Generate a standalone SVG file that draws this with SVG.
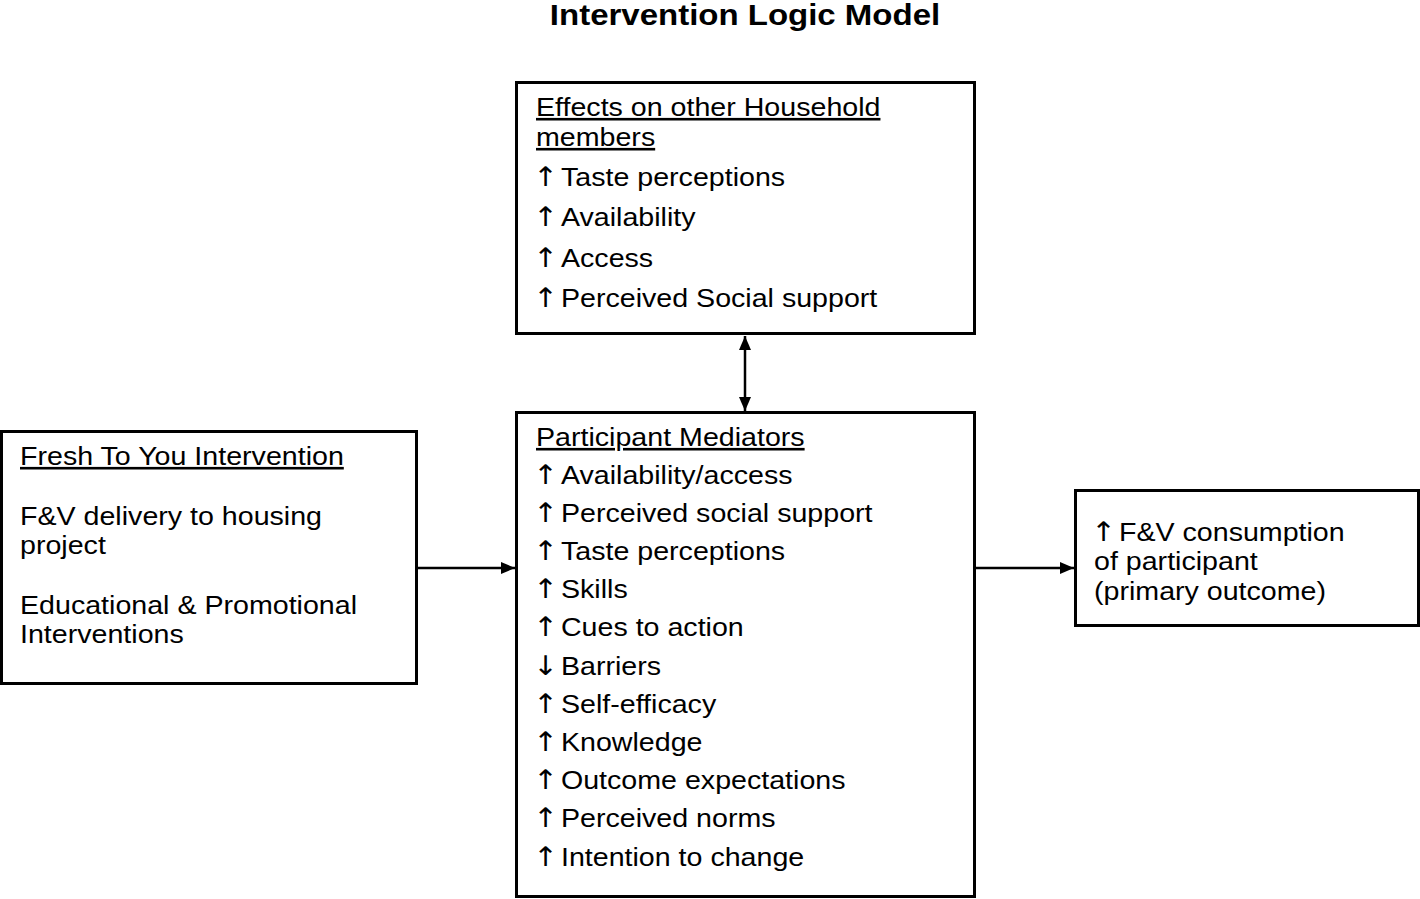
<svg xmlns="http://www.w3.org/2000/svg" width="1420" height="899" viewBox="0 0 1420 899">
<defs>
<style>
.box{fill:#fff;stroke:#000;stroke-width:3}
.t{font-family:"Liberation Sans",Arial,sans-serif;font-size:26px;fill:#000}
.u{text-decoration:underline}
.ar{font-family:"DejaVu Sans",sans-serif;font-size:27px}
.title{font-family:"Liberation Sans",Arial,sans-serif;font-size:30px;font-weight:bold;fill:#000}
.c{stroke:#000;stroke-width:2.5;fill:none}
</style>
<marker id="ah" viewBox="0 0 10 10" refX="10" refY="5" markerWidth="14" markerHeight="12" markerUnits="userSpaceOnUse" orient="auto-start-reverse" preserveAspectRatio="none">
<path d="M0,0 L10,5 L0,10 z" fill="#000"/>
</marker>
</defs>
<rect width="1420" height="899" fill="#fff"/>
<g transform="translate(745 0) scale(1.1 1)">
<text class="title" x="0" y="25" text-anchor="middle">Intervention Logic Model</text>
</g>
<g id="connectors">
<line class="c" x1="417" y1="568" x2="515" y2="568" marker-end="url(#ah)"/>
<line class="c" x1="975" y1="568" x2="1074" y2="568" marker-end="url(#ah)"/>
<line class="c" x1="745" y1="336" x2="745" y2="411" marker-start="url(#ah)" marker-end="url(#ah)"/>
</g>
<g id="household">
<rect class="box" x="516.5" y="82.5" width="458" height="251"/>
<g transform="translate(536 0) scale(1.1 1)">
<text class="t u" x="0" y="116">Effects on other Household</text>
<text class="t u" x="0" y="146">members</text>
<text class="t" y="186"><tspan class="ar" x="-2.5">↑</tspan><tspan x="22.7">Taste perceptions</tspan></text>
<text class="t" y="226"><tspan class="ar" x="-2.5">↑</tspan><tspan x="22.7">Availability</tspan></text>
<text class="t" y="267"><tspan class="ar" x="-2.5">↑</tspan><tspan x="22.7">Access</tspan></text>
<text class="t" y="307"><tspan class="ar" x="-2.5">↑</tspan><tspan x="22.7">Perceived Social support</tspan></text>
</g>
</g>
<g id="intervention">
<rect class="box" x="1.5" y="431.5" width="415" height="252"/>
<g transform="translate(20 0) scale(1.1 1)">
<text class="t u" x="0" y="465">Fresh To You Intervention</text>
<text class="t" x="0" y="525">F&amp;V delivery to housing</text>
<text class="t" x="0" y="554">project</text>
<text class="t" x="0" y="614">Educational &amp; Promotional</text>
<text class="t" x="0" y="643">Interventions</text>
</g>
</g>
<g id="mediators">
<rect class="box" x="516.5" y="412.5" width="458" height="484"/>
<g transform="translate(536 0) scale(1.1 1)">
<text class="t u" x="0" y="446">Participant Mediators</text>
<text class="t" y="484"><tspan class="ar" x="-2.5">↑</tspan><tspan x="22.7">Availability/access</tspan></text>
<text class="t" y="522"><tspan class="ar" x="-2.5">↑</tspan><tspan x="22.7">Perceived social support</tspan></text>
<text class="t" y="560"><tspan class="ar" x="-2.5">↑</tspan><tspan x="22.7">Taste perceptions</tspan></text>
<text class="t" y="598"><tspan class="ar" x="-2.5">↑</tspan><tspan x="22.7">Skills</tspan></text>
<text class="t" y="636"><tspan class="ar" x="-2.5">↑</tspan><tspan x="22.7">Cues to action</tspan></text>
<text class="t" y="675"><tspan class="ar" x="-2.5">↓</tspan><tspan x="22.7">Barriers</tspan></text>
<text class="t" y="713"><tspan class="ar" x="-2.5">↑</tspan><tspan x="22.7">Self-efficacy</tspan></text>
<text class="t" y="751"><tspan class="ar" x="-2.5">↑</tspan><tspan x="22.7">Knowledge</tspan></text>
<text class="t" y="789"><tspan class="ar" x="-2.5">↑</tspan><tspan x="22.7">Outcome expectations</tspan></text>
<text class="t" y="827"><tspan class="ar" x="-2.5">↑</tspan><tspan x="22.7">Perceived norms</tspan></text>
<text class="t" y="866"><tspan class="ar" x="-2.5">↑</tspan><tspan x="22.7">Intention to change</tspan></text>
</g>
</g>
<g id="outcome">
<rect class="box" x="1075.5" y="490.5" width="343" height="135"/>
<g transform="translate(1094 0) scale(1.1 1)">
<text class="t" y="541"><tspan class="ar" x="-2.5">↑</tspan><tspan x="22.7">F&amp;V consumption</tspan></text>
<text class="t" x="0" y="570">of participant</text>
<text class="t" x="0" y="600">(primary outcome)</text>
</g>
</g>
</svg>
